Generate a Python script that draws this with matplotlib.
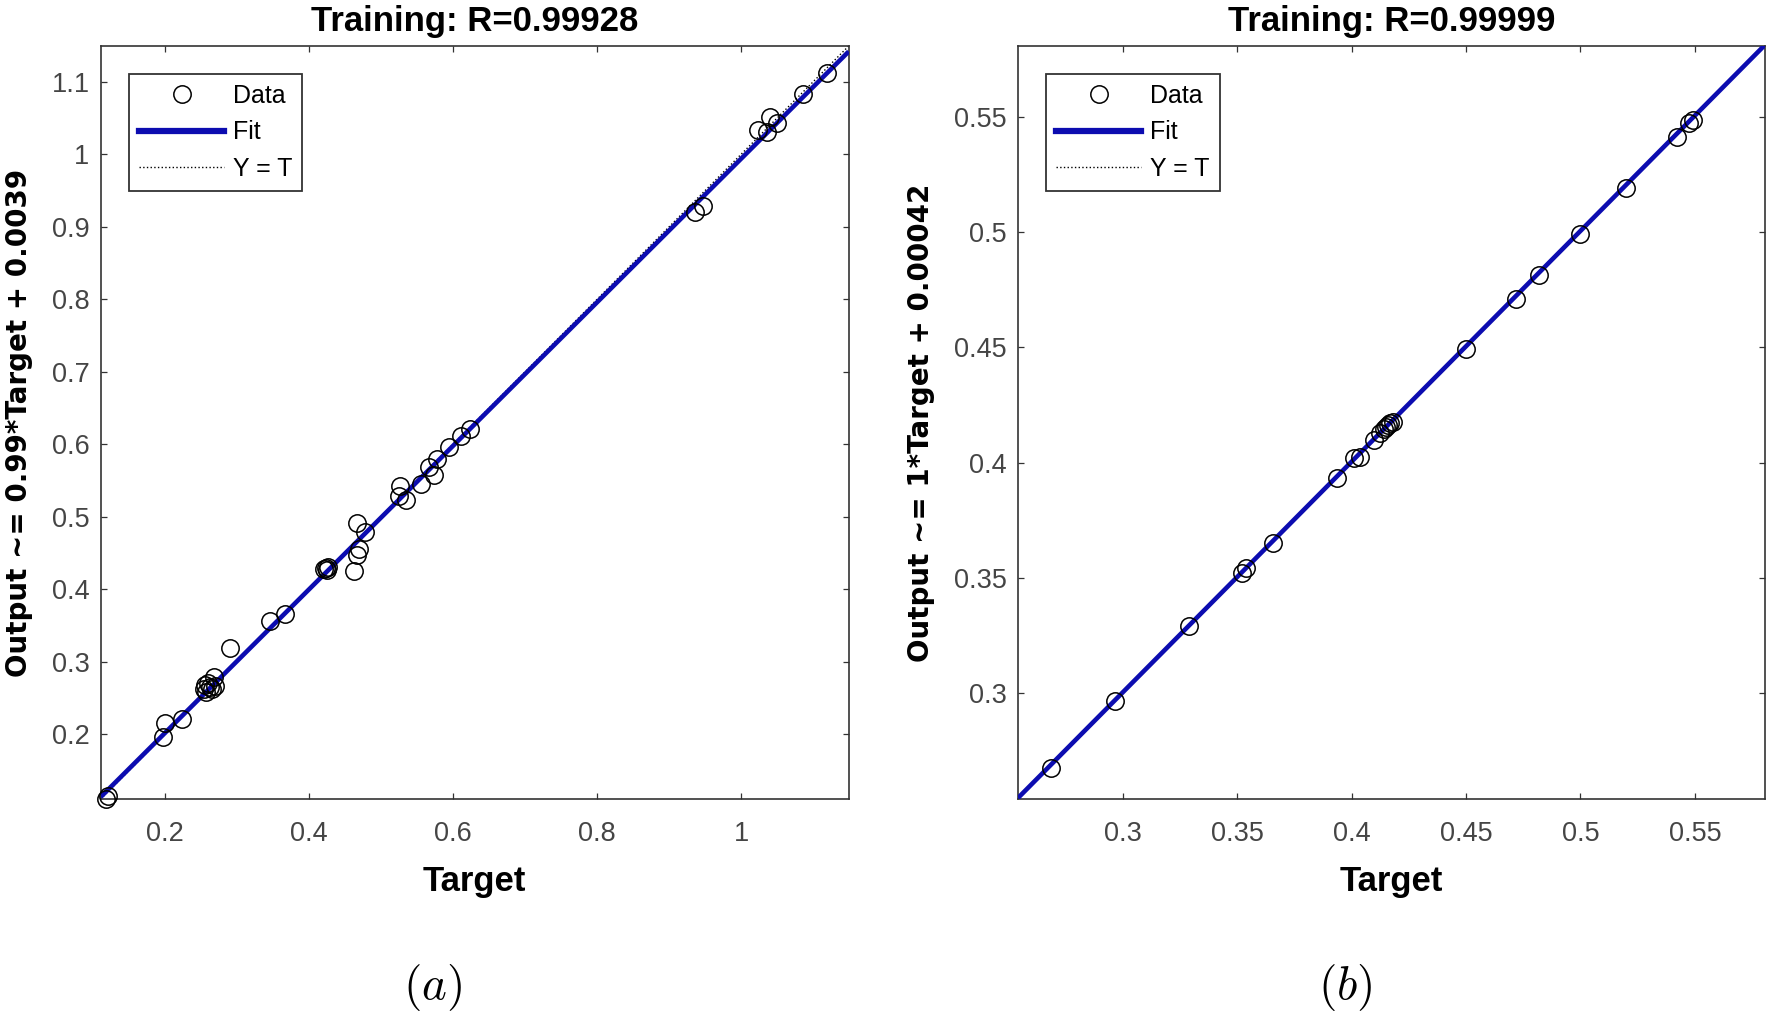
import numpy as np
import matplotlib
matplotlib.use("Agg")
import matplotlib.pyplot as plt
from matplotlib.lines import Line2D
from matplotlib.ticker import FuncFormatter

# ---- data ----
# panel (a)
target_a = [0.119, 0.121, 0.198, 0.200, 0.224, 0.254, 0.256, 0.257, 0.260, 0.262,
            0.265, 0.268, 0.270, 0.291, 0.346, 0.367, 0.421, 0.423, 0.425, 0.427,
            0.462, 0.467, 0.470, 0.467, 0.478, 0.525, 0.527, 0.535, 0.555, 0.566,
            0.574, 0.577, 0.595, 0.611, 0.623, 0.935, 0.947, 1.023, 1.036, 1.040,
            1.050, 1.086, 1.119]
output_a = [0.111, 0.115, 0.196, 0.216, 0.221, 0.262, 0.268, 0.258, 0.271, 0.265,
            0.263, 0.279, 0.267, 0.319, 0.356, 0.366, 0.428, 0.430, 0.427, 0.431,
            0.425, 0.447, 0.455, 0.492, 0.479, 0.528, 0.542, 0.523, 0.545, 0.569,
            0.558, 0.580, 0.596, 0.612, 0.621, 0.920, 0.929, 1.033, 1.031, 1.051,
            1.043, 1.083, 1.112]
fit_a = (0.99, 0.0039)
lim_a = (0.111, 1.149)
ticks_a_x = [0.2, 0.4, 0.6, 0.8, 1.0]
ticks_a_y = [0.2, 0.3, 0.4, 0.5, 0.6, 0.7, 0.8, 0.9, 1.0, 1.1]

# panel (b)
target_b = [0.2685, 0.2966, 0.3290, 0.3522, 0.3540, 0.3655, 0.3936, 0.4010, 0.4035,
            0.4100, 0.4125, 0.4140, 0.4150, 0.4160, 0.4170, 0.4180, 0.4498, 0.4717,
            0.4818, 0.5000, 0.5197, 0.5421, 0.5475, 0.5493]
output_b = [0.2676, 0.2968, 0.3292, 0.3520, 0.3543, 0.3652, 0.3932, 0.4020, 0.4025,
            0.4100, 0.4130, 0.4145, 0.4155, 0.4162, 0.4172, 0.4178, 0.4494, 0.4708,
            0.4815, 0.4990, 0.5190, 0.5413, 0.5473, 0.5487]
fit_b = (1.0, 0.00042)
lim_b = (0.2542, 0.5806)
ticks_b = [0.3, 0.35, 0.4, 0.45, 0.5, 0.55]

titles = ["Training: R=0.99928", "Training: R=0.99999"]
ylabels = ["Output ~= 0.99*Target + 0.0039", "Output ~= 1*Target + 0.00042"]
panel_tags = [r"$(a)$", r"$(b)$"]

FIT_COLOR = "#0c0cb0"
TICK_COLOR = "#454545"
plt.rcParams["mathtext.fontset"] = "cm"


def draw_panel(ax, target, output, fit, lim, xticks, yticks, title, ylabel, ylab_x):
    lo, hi = lim
    xx = np.array([lo, hi])
    # Y = T reference (dotted) under the fit line
    ax.plot(xx, xx, color="black", linestyle=":", linewidth=1.0, zorder=2)
    ax.plot(xx, fit[0] * xx + fit[1], color=FIT_COLOR, linewidth=3.3, zorder=3,
            solid_capstyle="butt")
    ax.plot(target, output, linestyle="none", marker="o", markersize=12.5,
            markerfacecolor="none", markeredgecolor="black", markeredgewidth=1.1,
            zorder=4, clip_on=False)

    ax.set_xlim(lo, hi)
    ax.set_ylim(lo, hi)
    ax.set_xticks(xticks)
    ax.set_yticks(yticks)
    fmt = FuncFormatter(lambda v, p: "%g" % round(v, 4))
    ax.xaxis.set_major_formatter(fmt)
    ax.yaxis.set_major_formatter(fmt)
    ax.tick_params(direction="in", length=4.5, width=0.9, colors="#333333",
                   top=True, right=True, labelcolor=TICK_COLOR, labelsize=19.5)
    ax.tick_params(axis="x", pad=16)
    ax.tick_params(axis="y", pad=8)
    for lab in ax.get_xticklabels() + ax.get_yticklabels():
        lab.set_fontfamily("Liberation Sans")
    for sp in ax.spines.values():
        sp.set_color("#333333")
        sp.set_linewidth(1.2)

    ax.set_title(title, fontsize=25, fontweight="bold", family="Liberation Sans", pad=11)
    ax.set_xlabel("Target", fontsize=25, fontweight="bold", family="Liberation Sans")
    ax.xaxis.set_label_coords(0.5, -0.087)
    ax.set_ylabel(ylabel, fontsize=20, fontweight="bold", family="DejaVu Sans",
                  va="center")
    ax.yaxis.set_label_coords(ylab_x, 0.5)

    handles = [
        Line2D([], [], linestyle="none", marker="o", markersize=12.5,
               markerfacecolor="none", markeredgecolor="black", markeredgewidth=1.1),
        Line2D([], [], color=FIT_COLOR, linewidth=4.5),
        Line2D([], [], color="black", linestyle=":", linewidth=1.0),
    ]
    leg = ax.legend(handles, ["Data", "Fit", "Y = T"], loc="upper left",
                    bbox_to_anchor=(0.038, 0.963), borderaxespad=0,
                    prop={"family": "Liberation Sans", "size": 18},
                    handlelength=3.4, handletextpad=0.35, labelspacing=0.5,
                    borderpad=0.4, fancybox=False, framealpha=1,
                    edgecolor="#333333")
    leg.get_frame().set_linewidth(1.3)


fig = plt.figure(figsize=(17.7, 10.15), dpi=100)
ax_a = fig.add_axes([0.0569, 0.2128, 0.4226, 0.7419])
ax_b = fig.add_axes([0.5751, 0.2128, 0.4220, 0.7419])

draw_panel(ax_a, target_a, output_a, fit_a, lim_a, ticks_a_x, ticks_a_y,
           titles[0], ylabels[0], -0.109)
draw_panel(ax_b, target_b, output_b, fit_b, lim_b, ticks_b, ticks_b,
           titles[1], ylabels[1], -0.130)

fig.text(0.2446, 0.027, panel_tags[0], fontsize=34, ha="center", va="center")
fig.text(0.7599, 0.027, panel_tags[1], fontsize=34, ha="center", va="center")

fig.savefig("out.png", dpi=100)
